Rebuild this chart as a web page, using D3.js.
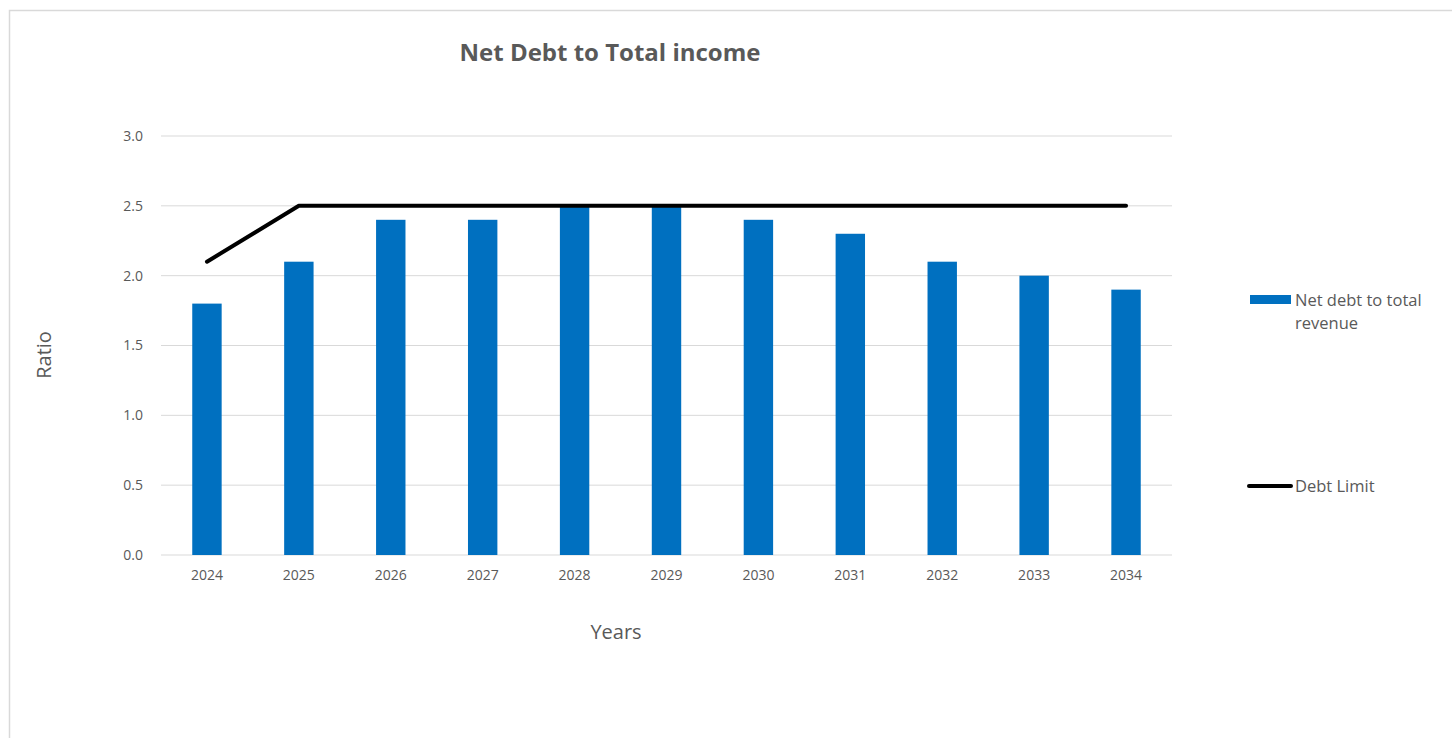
<!DOCTYPE html>
<html>
<head>
<meta charset="utf-8">
<script src="https://cdn.jsdelivr.net/npm/d3@7"></script>
<style>
  body { margin: 0; background: #fff; }
  text { font-family: "Open Sans", "Noto Sans", sans-serif; }
</style>
</head>
<body>
<div id="vis"></div>
<script>
// chart data
const years = ["2024", "2025", "2026", "2027", "2028", "2029", "2030", "2031", "2032", "2033", "2034"];
const netDebt = [1.8, 2.1, 2.4, 2.4, 2.5, 2.5, 2.4, 2.3, 2.1, 2.0, 1.9];
const debtLimit = [2.1, 2.5, 2.5, 2.5, 2.5, 2.5, 2.5, 2.5, 2.5, 2.5, 2.5];
const yTicks = [0, 0.5, 1.0, 1.5, 2.0, 2.5, 3.0];

const W = 1452, H = 738;
let margin = { top: 136, left: 161, right: 280, bottom: 183 },
  width = W - margin.left - margin.right,
  height = H - margin.top - margin.bottom;

let svg = d3.select("#vis")
  .append("svg")
  .attr("width", W)
  .attr("height", H);

// outer frame
svg.append("rect")
  .attr("x", 9.5).attr("y", 10.5)
  .attr("width", W + 10).attr("height", H + 10)
  .attr("fill", "white")
  .attr("stroke", "#d9d9d9")
  .attr("stroke-width", 1.5);

let g = svg.append("g").attr("transform", `translate(${margin.left},${margin.top})`);

let x = d3.scaleBand().domain(years).range([0, width]).paddingInner(0.68).paddingOuter(0.34);
let xc = d3.scaleBand().domain(years).range([0, width]); // category centres
let y = d3.scaleLinear().domain([0, 3]).range([height, 0]);

// gridlines
g.append("g")
  .selectAll("line")
  .data(yTicks)
  .join("line")
  .attr("x1", 0).attr("x2", width)
  .attr("y1", d => y(d)).attr("y2", d => y(d))
  .attr("stroke", "#d9d9d9")
  .attr("stroke-width", 1);

// y axis labels
let yAxis = g.append("g").call(d3.axisLeft(y).tickValues(yTicks).tickFormat(d3.format(".1f")).tickSize(0).tickPadding(18));
yAxis.select(".domain").remove();
yAxis.selectAll("text").attr("fill", "#595959").style("font-size", "14px");

// x axis labels
let xAxis = g.append("g").attr("transform", `translate(0,${height})`)
  .call(d3.axisBottom(xc).tickSize(0).tickPadding(15));
xAxis.select(".domain").remove();
xAxis.selectAll("text").attr("fill", "#595959").style("font-size", "14px");

// bars
g.append("g")
  .selectAll("rect")
  .data(netDebt)
  .join("rect")
  .attr("x", (d, i) => x(years[i]))
  .attr("y", d => y(d))
  .attr("width", x.bandwidth())
  .attr("height", d => height - y(d))
  .attr("fill", "#0070c0");

// debt limit line
let line = d3.line()
  .x((d, i) => xc(years[i]) + xc.bandwidth() / 2)
  .y(d => y(d));
g.append("path")
  .datum(debtLimit)
  .attr("d", line)
  .attr("fill", "none")
  .attr("stroke", "#000")
  .attr("stroke-width", 4)
  .attr("stroke-linecap", "round")
  .attr("stroke-linejoin", "round");

// title
svg.append("text")
  .attr("x", 610).attr("y", 61)
  .attr("text-anchor", "middle")
  .attr("fill", "#595959")
  .style("font-size", "24px")
  .style("font-weight", "bold")
  .text("Net Debt to Total income");

// axis titles
svg.append("text")
  .attr("x", 616).attr("y", 639)
  .attr("text-anchor", "middle")
  .attr("fill", "#595959")
  .style("font-size", "20px")
  .text("Years");

svg.append("text")
  .attr("transform", "translate(51,355) rotate(-90)")
  .attr("text-anchor", "middle")
  .attr("fill", "#595959")
  .style("font-size", "20px")
  .text("Ratio");

// legend
let leg = svg.append("g");
leg.append("rect")
  .attr("x", 1250).attr("y", 295)
  .attr("width", 41).attr("height", 9)
  .attr("fill", "#0070c0");
leg.append("text")
  .attr("x", 1295).attr("y", 306)
  .attr("fill", "#595959")
  .style("font-size", "16.5px")
  .text("Net debt to total");
leg.append("text")
  .attr("x", 1295).attr("y", 329)
  .attr("fill", "#595959")
  .style("font-size", "16.5px")
  .text("revenue");

leg.append("line")
  .attr("x1", 1249).attr("x2", 1291)
  .attr("y1", 486).attr("y2", 486)
  .attr("stroke", "#000")
  .attr("stroke-width", 4)
  .attr("stroke-linecap", "round");
leg.append("text")
  .attr("x", 1295).attr("y", 492)
  .attr("fill", "#595959")
  .style("font-size", "16.5px")
  .text("Debt Limit");
</script>
</body>
</html>
